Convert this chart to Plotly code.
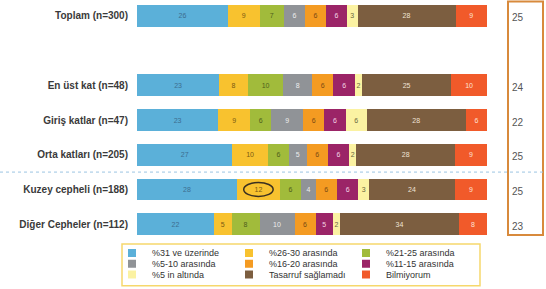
import plotly.graph_objects as go

categories = ["Toplam (n=300)", " ", "En üst kat (n=48)", "Giriş katlar (n=47)",
              "Orta katları (n=205)", "Kuzey cepheli (n=188)", "Diğer Cepheler (n=112)"]
rows = ["Toplam (n=300)", "En üst kat (n=48)", "Giriş katlar (n=47)",
        "Orta katları (n=205)", "Kuzey cepheli (n=188)", "Diğer Cepheler (n=112)"]

series_names = ["%31 ve üzerinde", "%26-30 arasında", "%21-25 arasında",
                "%5-10 arasında", "%16-20 arasında", "%11-15 arasında",
                "%5 in altında", "Tasarruf sağlamadı", "Bilmiyorum"]

s31 = [26, 23, 23, 27, 28, 22]
s26_30 = [9, 8, 9, 10, 12, 5]
s21_25 = [7, 10, 6, 6, 6, 8]
s5_10 = [6, 8, 9, 5, 4, 10]
s16_20 = [6, 6, 6, 6, 6, 6]
s11_15 = [6, 6, 6, 6, 6, 5]
s_lt5 = [3, 2, 6, 2, 3, 2]
s_none = [28, 25, 28, 28, 24, 34]
s_dk = [9, 10, 6, 9, 9, 8]

averages = [25, 24, 22, 25, 25, 23]

series = [s31, s26_30, s21_25, s5_10, s16_20, s11_15, s_lt5, s_none, s_dk]
colors = ["#5BB0D9", "#F8C22F", "#A1BB3B", "#909397", "#F49B22", "#9B2467",
          "#FBF2A2", "#7C5E40", "#F15A2A"]
text_colors = ["#3D6E90", "#7A5A12", "#4F5F1C", "#EDEDED", "#7A4A12", "#F3D6E4",
               "#6A6840", "#EFE3D4", "#FDE2D6"]

FONT = "Liberation Sans"

fig = go.Figure()
legend_ids = ["legend", "legend", "legend", "legend2", "legend2", "legend2",
              "legend3", "legend3", "legend3"]
for i, (name, vals) in enumerate(zip(series_names, series)):
    fig.add_trace(go.Bar(
        y=rows, x=vals, name=name, orientation="h",
        marker=dict(color=colors[i], line=dict(width=0)),
        text=vals, texttemplate="%{text}", textposition="inside",
        insidetextanchor="middle",
        textfont=dict(family=FONT, size=7, color=text_colors[i]),
        showlegend=False, hoverinfo="x+y+name",
    ))
# legend entries (small square swatches)
for i, name in enumerate(series_names):
    fig.add_trace(go.Scatter(
        x=[None], y=[None], mode="markers", name=name,
        marker=dict(symbol="square", size=8, color=colors[i]),
        legend=legend_ids[i], showlegend=True,
    ))

plot_h = 245

def py(px):
    return 1 - px / plot_h

def pxx(px):
    return (px - 137) / 350

legend_common = dict(orientation="h", xanchor="left", yanchor="middle",
                     x=pxx(112), bgcolor="rgba(0,0,0,0)", borderwidth=0,
                     entrywidth=72, font=dict(family=FONT, size=9, color="#333333"),
                     itemclick=False, itemdoubleclick=False, traceorder="normal")

fig.update_layout(
    width=546, height=289,
    margin=dict(l=137, r=59, t=0, b=44),
    paper_bgcolor="white", plot_bgcolor="white",
    barmode="stack", barnorm="percent", bargap=0.37,
    uniformtext=dict(minsize=7, mode="show"),
    xaxis=dict(range=[0, 100], visible=False, fixedrange=True),
    yaxis=dict(type="category", categoryorder="array", categoryarray=categories,
               range=[6.543, -0.457], showgrid=False, zeroline=False,
               showline=False, ticks="", ticklabelstandoff=8, fixedrange=True,
               tickfont=dict(family=FONT, size=10, color="#3A3A3A", weight="bold")),
    legend=dict(legend_common, y=py(255)),
    legend2=dict(legend_common, y=py(266)),
    legend3=dict(legend_common, y=py(277)),
    showlegend=True,
)

# Legend border
fig.add_shape(type="rect", xref="paper", yref="paper",
              x0=pxx(122), x1=pxx(480), y0=py(288), y1=py(246),
              line=dict(color="#F6D86C", width=1.5))
# Right summary box
fig.add_shape(type="rect", xref="paper", yref="paper",
              x0=pxx(508), x1=pxx(543), y0=py(237), y1=py(1.5),
              line=dict(color="#D88A3C", width=2))
# Dotted separator
fig.add_shape(type="line", xref="paper", yref="y",
              x0=pxx(0), x1=pxx(546), y0=4.5, y1=4.5,
              line=dict(color="#9CC4E2", width=1, dash="dot"))

# Circle around highlighted value (Kuzey cepheli, %26-30)
k = 4
tot = sum(s[k] for s in series)
start = s31[k] / tot * 100
center = start + s26_30[k] / tot * 50
fig.add_shape(type="circle", xref="x", yref="y",
              x0=center - 4.2, x1=center + 4.2, y0=4.8, y1=5.2,
              line=dict(color="#3A3020", width=1.5))

for r, v in zip(rows, averages):
    fig.add_annotation(x=pxx(525.5), xref="paper", y=r, yref="y", text=str(v),
                       showarrow=False, yshift=-2,
                       font=dict(family=FONT, size=10, color="#555555"))

fig.write_html("out.html", config={"displayModeBar": False},
               post_script="document.body.style.margin='0';")
